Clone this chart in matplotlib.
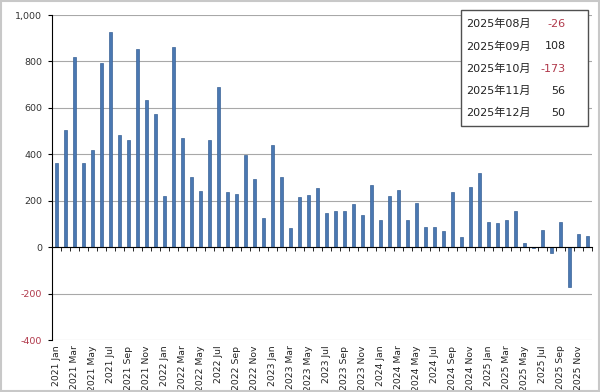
import matplotlib.pyplot as plt
import numpy as np
from matplotlib.patches import Rectangle

plt.rcParams['font.family'] = ['DejaVu Sans', 'Noto Sans CJK JP']

years = [2021, 2022, 2023, 2024, 2025]
months = ['Jan', 'Feb', 'Mar', 'Apr', 'May', 'Jun',
          'Jul', 'Aug', 'Sep', 'Oct', 'Nov', 'Dec']
labels = ['%d %s' % (y, m) for y in years for m in months]

v2021 = [363, 506, 821, 363, 417, 793, 927, 485, 463, 853, 635, 574]
v2022 = [222, 864, 470, 304, 241, 460, 692, 237, 227, 399, 295, 126]
v2023 = [442, 303, 83, 215, 225, 255, 148, 155, 156, 185, 139, 267]
v2024 = [118, 219, 245, 116, 191, 86, 86, 69, 238, 42, 258, 320]
v2025 = [110, 102, 118, 156, 17, -5, 72, -26, 108, -173, 56, 50]
values = v2021 + v2022 + v2023 + v2024 + v2025

box_labels = ['2025年08月', '2025年09月', '2025年10月', '2025年11月', '2025年12月']
box_values = values[-5:]

yticks = [-400, -200, 0, 200, 400, 600, 800, 1000]

neg_color = '#b0384a'
bar_color = '#4a78b2'

fig = plt.figure(figsize=(6, 3.92), dpi=100)
ax = fig.add_axes([52/600, 1-340/392, 540/600, 325/392])

x = np.arange(len(values))
ax.bar(x, values, width=0.42, color=bar_color, edgecolor='#3b6396', linewidth=0.5, zorder=3)

ax.set_xlim(-0.5, len(values) - 0.5)
ax.set_ylim(-400, 1000)
ax.set_yticks(yticks, ['{:,}'.format(t) for t in yticks])
for t, lab in zip(yticks, ax.get_yticklabels()):
    lab.set_color(neg_color if t < 0 else '#333333')
ax.tick_params(axis='y', labelsize=6.8, length=3, direction='out', pad=4)
ax.yaxis.grid(True, color='#a8a8a8', lw=0.8)
ax.set_axisbelow(True)

# category axis sits on the zero line, labels stay at the bottom
ax.spines['bottom'].set_position(('data', 0))
ax.spines['bottom'].set_zorder(4)
ax.spines['top'].set_visible(False)
ax.spines['right'].set_visible(False)
ax.set_xticks([])
ax.set_xticks(np.arange(-0.5, len(values), 1), minor=True)
ax.tick_params(axis='x', which='minor', length=3, direction='out', color='black')

sec = ax.secondary_xaxis(0)
sec.set_xticks(x[::2], labels[::2], rotation=90)
sec.tick_params(length=0, pad=4, labelsize=6.7, labelcolor='#222222')
sec.spines['bottom'].set_visible(False)

# value box in the upper right
ax.add_patch(Rectangle((461/600, 1-126/392), 127/600, 116.5/392, transform=fig.transFigure,
                       facecolor='white', edgecolor='#505050', lw=1, zorder=10, clip_on=False))
for i, (lab, val) in enumerate(zip(box_labels, box_values)):
    yy = 1 - (24 + i*22.3)/392
    fig.text(466.5/600, yy, lab, fontsize=8, va='center', ha='left', color='#222222', zorder=11)
    fig.text(565.5/600, yy, str(val), fontsize=8, va='center', ha='right',
             color=neg_color if val < 0 else '#222222', zorder=11)

fig.add_artist(Rectangle((0.002, 0.003), 0.996, 0.994, transform=fig.transFigure,
                         facecolor='none', edgecolor='#c8c8c8', lw=1.5))

fig.savefig('out.png', dpi=100)
